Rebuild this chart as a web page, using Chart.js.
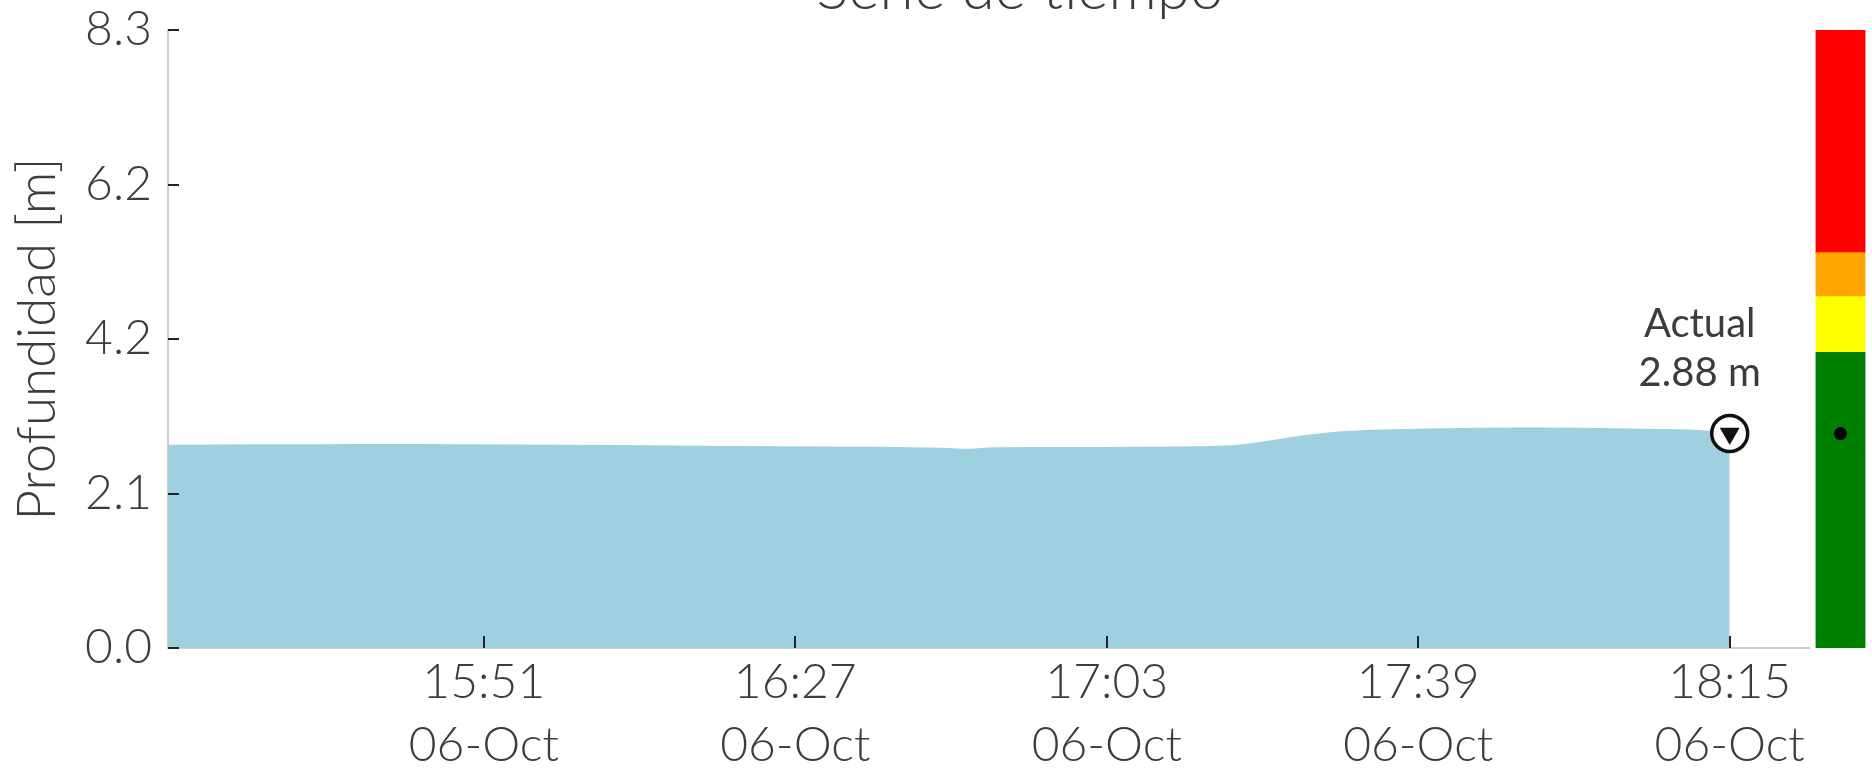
<!DOCTYPE html>
<html><head><meta charset="utf-8">
<script src="https://cdn.jsdelivr.net/npm/chart.js@4.4.1/dist/chart.umd.min.js"></script>
<style>
html,body{margin:0;padding:0;background:#fff;overflow:hidden;}
#wrap{position:relative;width:1872px;height:771px;}
#main{position:absolute;left:0;top:0;}
#levels{position:absolute;left:1809px;top:0;}
</style></head><body>
<div id="wrap"><canvas id="main" width="1872" height="771"></canvas><canvas id="levels" width="63" height="771"></canvas></div>
<script>
// ---- data ----
const times = ['15:14:30','15:25','15:37','15:49','16:01','16:13','16:25','16:37','16:44','16:47','16:50','17:02','17:10','17:16','17:19','17:22','17:26','17:30','17:35','17:42','17:50','17:58','18:05','18:12','18:15'];
const depths = [2.73,2.735,2.74,2.737,2.73,2.72,2.71,2.704,2.69,2.675,2.695,2.70,2.705,2.715,2.74,2.79,2.86,2.91,2.935,2.953,2.962,2.958,2.945,2.925,2.88];
const xTickTimes = ['15:51','16:27','17:03','17:39','18:15'];
const xTickDate = '06-Oct';
const yTickValues = [0, 2.075, 4.15, 6.225, 8.3];
const yTickLabels = ['0.0','2.1','4.2','6.2','8.3'];
const xAxisEnd = '18:24:10';
const currentTime = '18:15';
const currentDepth = 2.88;
const levelNames = ['Normal','Aviso','Alerta','Peligro'];
const levelBottoms = [0, 3.97, 4.72, 5.31];
const levelTops = [3.97, 4.72, 5.31, 8.3];
const levelColors = ['#008000','#ffff00','#ffa500','#ff0000'];
const titleText = 'Serie de tiempo';
const yTitle = 'Profundidad [m]';

// ---- helpers ----
const toMin = t => { const p = t.split(':').map(Number); return p[0]*60 + p[1] + (p[2]||0)/60; };
const series = times.map((t,i) => ({x: toMin(t), y: depths[i]}));
const cur = {x: toMin(currentTime), y: currentDepth};
const FONT = 'Lato, "Open Sans", sans-serif';
const TXT = '#3c3c3c';

const innerTicks = {
  id: 'innerTicks',
  afterDatasetsDraw(chart) {
    const {ctx, chartArea, scales} = chart;
    ctx.save();
    ctx.strokeStyle = '#222'; ctx.lineWidth = 2;
    scales.y.ticks.forEach(t => {
      const y = Math.round(scales.y.getPixelForValue(t.value));
      ctx.beginPath(); ctx.moveTo(chartArea.left, y); ctx.lineTo(chartArea.left + 11, y); ctx.stroke();
    });
    scales.x.ticks.forEach(t => {
      const x = Math.round(scales.x.getPixelForValue(t.value));
      ctx.beginPath(); ctx.moveTo(x, chartArea.bottom); ctx.lineTo(x, chartArea.bottom - 12); ctx.stroke();
    });
    ctx.restore();
  }
};
const labelsPlugin = {
  id: 'labelsPlugin',
  afterDraw(chart) {
    const {ctx, chartArea, scales} = chart;
    ctx.save();
    ctx.fillStyle = TXT;
    ctx.textAlign = 'center';
    ctx.textBaseline = 'alphabetic';
    ctx.font = '300 60px ' + FONT;
    ctx.fillText(titleText, (chartArea.left + chart.width) / 2, 9);
    const px = scales.x.getPixelForValue(cur.x), py = scales.y.getPixelForValue(cur.y);
    ctx.font = '40px ' + FONT;
    ctx.fillText('Actual', px - 30, py - 97);
    ctx.fillText(currentDepth.toFixed(2) + ' m', px - 30, py - 48);
    ctx.restore();
  }
};

new Chart(document.getElementById('main'), {
  type: 'line',
  data: { datasets: [
    { data: [{x: cur.x, y: cur.y}], showLine: false, pointStyle: 'triangle', rotation: 180, pointRadius: 11.5,
      pointBackgroundColor: '#111', pointBorderWidth: 0, order: 1 },
    { data: [{x: cur.x, y: cur.y}], showLine: false, pointStyle: 'circle', pointRadius: 18,
      pointBackgroundColor: '#fff', pointBorderColor: '#111', pointBorderWidth: 3.5, order: 2 },
    { data: series, fill: 'origin', backgroundColor: '#9ed0e0', borderWidth: 0, borderColor: 'rgba(0,0,0,0)',
      pointRadius: 0, cubicInterpolationMode: 'monotone', order: 3 }
  ]},
  options: {
    responsive: false, animation: false, devicePixelRatio: 1,
    layout: { padding: { top: 30, right: 63, left: 0, bottom: 0 } },
    plugins: { legend: {display: false}, tooltip: {enabled: false}, title: {display: false} },
    scales: {
      x: {
        type: 'linear', min: toMin(times[0]), max: toMin(xAxisEnd),
        afterBuildTicks: s => { s.ticks = xTickTimes.map(t => ({value: toMin(t)})); },
        afterFit: s => { s.height = 123; s.paddingLeft = 0; s.paddingRight = 0; },
        grid: { display: false, drawTicks: false },
        border: { display: true, color: '#cccccc', width: 2 },
        ticks: { padding: 3, autoSkip: false, maxRotation: 0, color: TXT,
          font: { family: FONT, size: 48, weight: '300', lineHeight: 1.31 },
          callback: (v) => { const i = xTickTimes.findIndex(t => Math.abs(toMin(t) - v) < 0.01); return i < 0 ? '' : [xTickTimes[i], xTickDate]; } }
      },
      y: {
        min: 0, max: 8.3,
        afterBuildTicks: s => { s.ticks = yTickValues.map(v => ({value: v})); },
        afterFit: s => { s.width = 168; s.paddingTop = 0; s.paddingBottom = 0; },
        grid: { display: false, drawTicks: false },
        border: { display: true, color: '#cccccc', width: 2 },
        ticks: { padding: 16, color: TXT, font: { family: FONT, size: 48, weight: '300' },
          callback: (v) => { const i = yTickValues.findIndex(y => Math.abs(y - v) < 1e-6); return i < 0 ? '' : yTickLabels[i]; } },
        title: { display: true, text: yTitle, color: TXT, font: { family: FONT, size: 53, weight: '300' }, padding: { top: 6, bottom: 0 } }
      }
    }
  },
  plugins: [innerTicks, labelsPlugin]
});

new Chart(document.getElementById('levels'), {
  type: 'bar',
  data: { labels: [''], datasets: [
    { type: 'line', label: 'Actual', data: [currentDepth], stack: 'dot', showLine: false, pointRadius: 6.5,
      pointBackgroundColor: '#000', pointBorderWidth: 0, order: 0 },
    ...levelNames.map((n, i) => ({ label: n, data: [levelTops[i] - levelBottoms[i]], stack: 'levels',
      backgroundColor: levelColors[i], borderWidth: 0, barPercentage: 1, categoryPercentage: 1, order: 1 }))
  ]},
  options: {
    responsive: false, animation: false, devicePixelRatio: 1,
    layout: { padding: { top: 30, bottom: 123, left: 0, right: 0 } },
    plugins: { legend: {display: false}, tooltip: {enabled: false} },
    scales: { x: { display: false, stacked: true }, y: { display: false, stacked: true, min: 0, max: 8.3 } }
  }
});
</script>
</body></html>
